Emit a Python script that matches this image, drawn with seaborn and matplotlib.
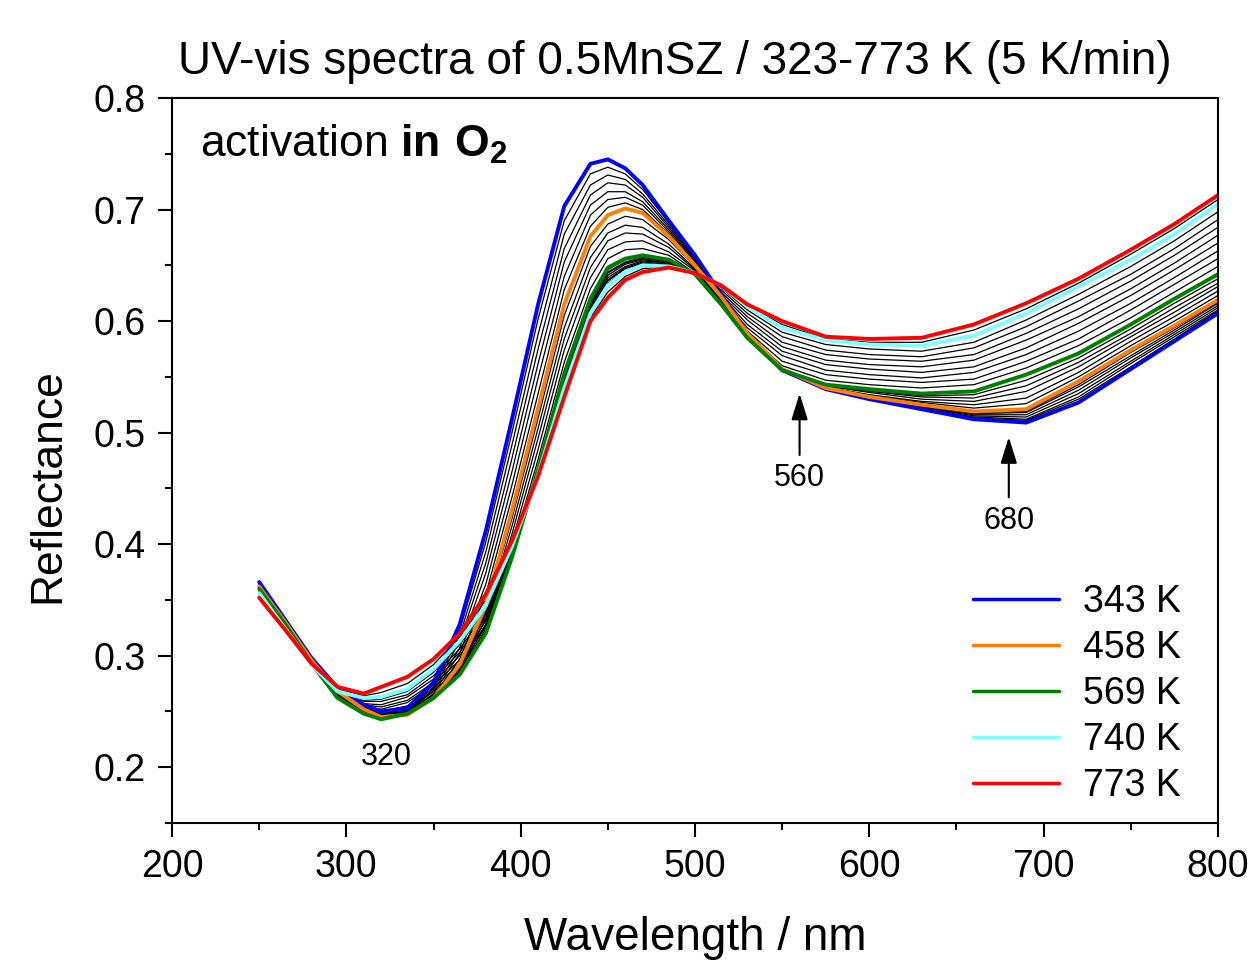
import numpy as np
import pandas as pd
import matplotlib
matplotlib.use("Agg")
import matplotlib.pyplot as plt
from matplotlib.ticker import MultipleLocator
import seaborn as sns

# Wavelength grid (nm) the spectra were read at
wavelength = [250, 265, 280, 295, 310, 320, 335, 350, 365, 380, 395, 410, 425, 440, 450,
              460, 470, 485, 500, 515, 530, 550, 575, 600, 630, 660, 690, 720, 750, 775, 800]

# Highlighted spectra (reflectance)
r343 = [.366, .332, .298, .271, .256, .250, .253, .276, .328, .412, .512, .615, .703, .741, .745,
        .737, .722, .690, .659, .624, .589, .556, .539, .530, .521, .512, .509, .527, .557, .582, .607]
r458 = [.362, .330, .296, .268, .252, .245, .247, .262, .292, .345, .430, .522, .615, .676, .695,
        .701, .697, .676, .650, .622, .589, .557, .540, .532, .525, .519, .521, .546, .574, .596, .619]
r569 = [.360, .328, .293, .262, .248, .243, .248, .262, .283, .320, .388, .467, .553, .620, .648,
        .656, .659, .655, .642, .615, .585, .556, .543, .539, .535, .537, .552, .571, .597, .620, .642]
r740 = [.356, .324, .292, .268, .262, .263, .270, .288, .313, .345, .398, .462, .540, .607, .632,
        .644, .650, .649, .643, .632, .613, .594, .583, .579, .578, .587, .607, .631, .655, .678, .705]
r773 = [.352, .323, .293, .272, .266, .272, .281, .297, .320, .355, .403, .461, .532, .600, .621,
        .637, .644, .648, .643, .632, .615, .600, .586, .584, .585, .597, .616, .638, .664, .687, .713]

highlight_labels = ["343 K", "458 K", "569 K", "740 K", "773 K"]
highlight_colors = ["#0000ff", "#ff8000", "#008000", "#80ffff", "#ff0000"]

# Intermediate spectra (thin black lines)
a1 = [.365, .332, .298, .271, .255, .249, .252, .274, .323, .402, .500, .602, .690, .732, .738,
      .732, .718, .688, .658, .624, .589, .556, .539, .530, .522, .513, .511, .530, .559, .584, .609]
a2 = [.365, .331, .297, .270, .255, .249, .251, .272, .318, .393, .489, .588, .678, .722, .731,
      .727, .714, .686, .656, .623, .589, .556, .539, .531, .522, .514, .512, .532, .562, .586, .610]
a3 = [.364, .331, .297, .270, .254, .248, .250, .270, .313, .383, .477, .575, .665, .713, .724,
      .722, .711, .684, .655, .623, .589, .556, .539, .531, .523, .515, .514, .535, .564, .588, .612]
a4 = [.364, .331, .297, .270, .254, .247, .250, .268, .307, .374, .465, .562, .653, .704, .716,
      .716, .707, .682, .654, .623, .589, .557, .540, .531, .523, .516, .516, .538, .567, .590, .614]
a5 = [.363, .331, .297, .269, .253, .247, .249, .266, .302, .364, .453, .549, .640, .695, .709,
      .711, .704, .680, .653, .622, .589, .557, .540, .531, .524, .517, .518, .541, .569, .592, .616]
a6 = [.363, .330, .296, .269, .253, .246, .248, .264, .297, .355, .442, .535, .628, .685, .702,
      .706, .700, .678, .651, .622, .589, .557, .540, .532, .524, .518, .519, .543, .572, .594, .617]
b1 = [.362, .330, .296, .267, .251, .245, .247, .262, .291, .341, .423, .513, .605, .667, .687,
      .694, .691, .673, .649, .621, .588, .557, .540, .533, .527, .522, .526, .550, .578, .600, .623]
b2 = [.361, .329, .295, .266, .251, .244, .247, .262, .289, .337, .416, .504, .594, .657, .679,
      .686, .684, .669, .647, .620, .588, .557, .541, .534, .528, .525, .531, .554, .582, .604, .627]
b3 = [.361, .329, .295, .265, .250, .244, .248, .262, .288, .333, .409, .495, .584, .648, .672,
      .679, .678, .666, .646, .619, .587, .557, .542, .536, .530, .528, .537, .559, .586, .608, .631]
b4 = [.361, .329, .294, .264, .249, .244, .248, .262, .286, .328, .402, .485, .574, .639, .664,
      .671, .672, .662, .645, .617, .586, .556, .542, .537, .532, .531, .542, .563, .589, .612, .634]
b5 = [.360, .328, .294, .263, .249, .243, .248, .262, .285, .324, .395, .476, .563, .629, .656,
      .664, .665, .659, .643, .616, .586, .556, .543, .538, .533, .534, .547, .567, .593, .616, .638]
c1 = [.360, .328, .293, .263, .250, .245, .250, .265, .286, .323, .389, .466, .552, .619, .646,
      .655, .658, .654, .642, .617, .588, .560, .547, .543, .540, .543, .558, .578, .603, .626, .649]
c2 = [.359, .327, .293, .263, .251, .247, .253, .268, .290, .326, .390, .466, .550, .617, .644,
      .653, .657, .654, .642, .619, .591, .564, .552, .548, .545, .548, .564, .584, .610, .633, .656]
c3 = [.359, .327, .293, .264, .253, .250, .255, .271, .293, .328, .391, .465, .549, .616, .643,
      .652, .656, .653, .642, .621, .594, .569, .556, .552, .549, .554, .570, .591, .616, .639, .663]
c4 = [.358, .326, .293, .265, .254, .252, .258, .274, .296, .331, .392, .465, .547, .614, .641,
      .651, .655, .652, .642, .623, .597, .573, .561, .557, .554, .559, .576, .598, .623, .646, .670]
c5 = [.358, .326, .292, .265, .256, .254, .260, .276, .300, .334, .394, .464, .546, .613, .639,
      .649, .654, .652, .643, .624, .601, .577, .565, .561, .559, .565, .583, .604, .629, .652, .677]
c6 = [.358, .325, .292, .266, .257, .256, .263, .279, .303, .337, .395, .464, .544, .611, .637,
      .648, .653, .651, .643, .626, .604, .581, .570, .566, .564, .570, .589, .611, .636, .659, .684]
c7 = [.357, .325, .292, .267, .259, .259, .265, .282, .306, .339, .396, .463, .543, .610, .636,
      .647, .652, .650, .643, .628, .607, .586, .574, .570, .568, .576, .595, .618, .642, .665, .691]
c8 = [.357, .324, .292, .267, .260, .261, .268, .285, .310, .342, .397, .463, .541, .608, .634,
      .645, .651, .650, .643, .630, .610, .590, .579, .575, .573, .581, .601, .624, .649, .672, .698]
d1 = [.354, .324, .292, .270, .264, .267, .275, .292, .317, .350, .400, .461, .536, .603, .626,
      .640, .647, .649, .643, .632, .614, .597, .584, .581, .581, .592, .611, .634, .660, .683, .709]

black_curves = [a1, a2, a3, a4, a5, a6, b1, b2, b3, b4, b5, c1, c2, c3, c4, c5, c6, c7, c8, d1]
highlight_curves = [r343, r458, r569, r740, r773]

# long tables for seaborn
black_rows = []
for i, curve in enumerate(black_curves):
    for w, v in zip(wavelength, curve):
        black_rows.append((i, w, v))
black_df = pd.DataFrame(black_rows, columns=["curve", "wl", "R"])

col_rows = []
for lab, curve in zip(highlight_labels, highlight_curves):
    for w, v in zip(wavelength, curve):
        col_rows.append((lab, w, v))
col_df = pd.DataFrame(col_rows, columns=["T", "wl", "R"])

sns.set_theme(style="ticks")
plt.rcParams["font.family"] = ["Liberation Sans", "DejaVu Sans"]
plt.rcParams["mathtext.fontset"] = "custom"
plt.rcParams["mathtext.rm"] = "Liberation Sans"
plt.rcParams["mathtext.bf"] = "Liberation Sans:bold"
for key in ["text.color", "axes.labelcolor", "xtick.color", "ytick.color", "axes.edgecolor"]:
    plt.rcParams[key] = "black"

fig = plt.figure(figsize=(12.51, 9.63), dpi=100)
ax = fig.add_axes([0.1375, 0.1454, 0.8361, 0.7528])

sns.lineplot(data=black_df, x="wl", y="R", units="curve", estimator=None,
             color="black", lw=0.9, ax=ax, legend=False, solid_joinstyle="round")
sns.lineplot(data=col_df, x="wl", y="R", hue="T", hue_order=highlight_labels,
             palette=dict(zip(highlight_labels, highlight_colors)),
             estimator=None, lw=2.8, ax=ax, solid_joinstyle="round")

ax.set_xlim(200, 800)
ax.set_ylim(0.15, 0.8)
ax.xaxis.set_major_locator(MultipleLocator(100))
ax.xaxis.set_minor_locator(MultipleLocator(50))
ax.yaxis.set_major_locator(MultipleLocator(0.1))
ax.yaxis.set_minor_locator(MultipleLocator(0.05))
ax.tick_params(which="both", direction="out", width=1.5, labelsize=27, pad=9,
               top=False, right=False)
ax.tick_params(which="major", length=10)
ax.tick_params(which="minor", length=5)
for sp in ax.spines.values():
    sp.set_linewidth(1.5)

ax.set_xlabel("Wavelength / nm", fontsize=33, labelpad=22)
ax.set_ylabel("Reflectance", fontsize=32)
ax.yaxis.set_label_coords(-0.099, 0.466)

fig.text(675 / 1251, 1 - 62 / 963, "UV-vis spectra of 0.5MnSZ / 323-773 K (5 K/min)",
         ha="center", va="center", fontsize=33)
ax.text(216, 0.758, r"activation $\mathbf{in\ O_2}$", fontsize=32, va="center")

arrow = dict(arrowstyle="-|>,head_length=0.8,head_width=0.25", color="black", lw=1.5,
             mutation_scale=20, shrinkA=0, shrinkB=0)
ax.annotate("", xy=(560, 0.535), xytext=(560, 0.480), arrowprops=arrow)
ax.annotate("", xy=(680, 0.496), xytext=(680, 0.442), arrowprops=arrow)
ax.text(560, 0.459, "560", ha="center", va="center", fontsize=22)
ax.text(680, 0.421, "680", ha="center", va="center", fontsize=22)
ax.text(323, 0.209, "320", ha="center", va="center", fontsize=22)

handles, labels = ax.get_legend_handles_labels()
for h in handles:
    h.set_linewidth(2.5)
ax.legend(handles, labels, loc="lower right", frameon=False, fontsize=27,
          handlelength=2.3, handletextpad=0.65, labelspacing=0.27,
          bbox_to_anchor=(0.983, 0.0), borderaxespad=0.1)

fig.savefig("out.png", dpi=100)
